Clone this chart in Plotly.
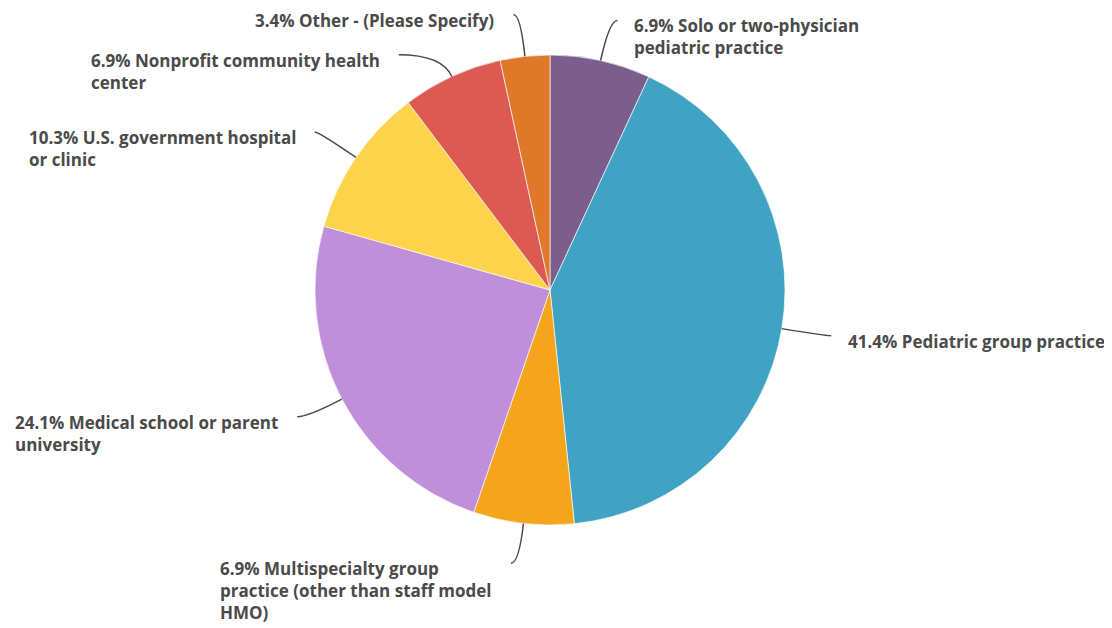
import math
import textwrap
import plotly.graph_objects as go

# ---- data ----
categories = [
    "Solo or two-physician pediatric practice",
    "Pediatric group practice",
    "Multispecialty group practice (other than staff model HMO)",
    "Medical school or parent university",
    "U.S. government hospital or clinic",
    "Nonprofit community health center",
    "Other - (Please Specify)",
]
percentages = [6.9, 41.4, 6.9, 24.1, 10.3, 6.9, 3.4]
colors = ["#7B5E8C", "#40A3C3", "#F5A51B", "#C08FDA", "#FCD34A", "#DD5A53", "#E0782A"]

# ---- layout/style config ----
W, H = 1112, 628
OFF = 8  # page body margin in browser
CX, CY, R = 550, 290, 235
# leader line: radial length, horizontal length (per slice)
line_len1 = [41, 43, 40, 38, 45, 24, 42]
line_len2 = [8, 7, 8, 11, 4, 43, 7]
TEXT_COLOR = "#4A4A4A"
LINE_COLOR = "#4A4A4A"
FONT = "Open Sans"
FONT_SIZE = 17


def px2paper(x, y):
    return (x - OFF) / W, 1 - (y - OFF) / H


fig = go.Figure()
dx0, dy0 = px2paper(CX - R, CY + R)
dx1, dy1 = px2paper(CX + R, CY - R)
fig.add_trace(go.Pie(
    labels=categories,
    values=percentages,
    sort=False,
    direction="clockwise",
    rotation=0,
    textinfo="none",
    marker=dict(colors=colors, line=dict(color="rgba(255,255,255,0.8)", width=0.8)),
    domain=dict(x=[dx0, dx1], y=[dy0, dy1]),
    showlegend=False,
    hoverinfo="label+percent",
))

total = sum(percentages)
cum = 0.0
shapes = []
annotations = []
for i, (cat, val) in enumerate(zip(categories, percentages)):
    mid = (cum + val / 2) / total * 2 * math.pi
    cum += val
    ux, uy = math.sin(mid), -math.cos(mid)
    ex, ey = CX + R * ux, CY + R * uy
    bx, by = ex + line_len1[i] * ux, ey + line_len1[i] * uy
    side = 1 if ux >= 0 else -1
    fx, fy = bx + side * line_len2[i], by
    p = [px2paper(ex, ey), px2paper(bx, by), px2paper(fx, fy)]
    shapes.append(dict(
        type="path", xref="paper", yref="paper",
        path=f"M {p[0][0]},{p[0][1]} Q {p[1][0]},{p[1][1]} {p[2][0]},{p[2][1]}",
        line=dict(color=LINE_COLOR, width=1.5),
    ))
    text = f"{val}% {cat}"
    lines = textwrap.wrap(text, width=32, break_on_hyphens=False)
    gap = 15 if side > 0 else 17
    ax, ay = px2paper(fx + side * gap, fy - 8)
    annotations.append(dict(
        x=ax, y=ay, xref="paper", yref="paper",
        text="<br>".join(lines),
        showarrow=False,
        xanchor="left" if side > 0 else "right",
        yanchor="top",
        align="left",
        font=dict(family=FONT, size=FONT_SIZE, color=TEXT_COLOR, weight="bold"),
    ))

fig.update_layout(
    width=W, height=H,
    margin=dict(l=0, r=0, t=0, b=0),
    paper_bgcolor="white",
    plot_bgcolor="white",
    shapes=shapes,
    annotations=annotations,
)

fig.write_html("out.html")
